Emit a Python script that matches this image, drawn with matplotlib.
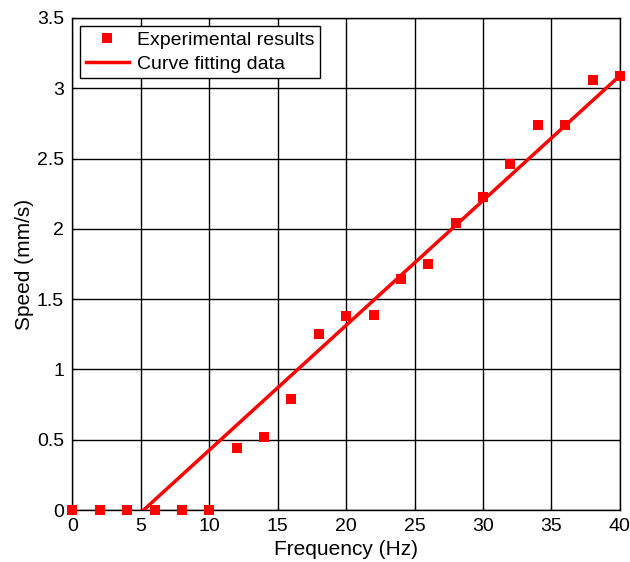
import matplotlib
matplotlib.use("Agg")
import matplotlib.pyplot as plt

freq = [0, 2, 4, 6, 8, 10, 12, 14, 16, 18, 20, 22, 24, 26, 28, 30, 32, 34, 36, 38, 40]
speed = [0, 0, 0, 0, 0, 0, 0.44, 0.52, 0.79, 1.25, 1.38, 1.39, 1.64, 1.75, 2.04, 2.23, 2.46, 2.74, 2.74, 3.06, 3.09]
fit_x = [5.2, 40]
fit_y = [0.0, 3.09]
xticks = [0, 5, 10, 15, 20, 25, 30, 35, 40]
yticks = [0, 0.5, 1, 1.5, 2, 2.5, 3, 3.5]
ytick_labels = ["0", "0.5", "1", "1.5", "2", "2.5", "3", "3.5"]

plt.rcParams['font.family'] = ['Liberation Sans', 'DejaVu Sans']
fig = plt.figure(figsize=(6.3, 5.62), dpi=100)
ax = fig.add_axes([0.115, 0.0925, 0.869, 0.8755])
ax.plot(freq, speed, 's', color='red', markersize=7.5, markeredgewidth=0,
        label='Experimental results', clip_on=False, zorder=3)
ax.plot(fit_x, fit_y, '-', color='red', linewidth=2.5, label='Curve fitting data', zorder=3)
ax.set_xlim(0, 40)
ax.set_ylim(0, 3.5)
ax.set_xticks(xticks)
ax.set_yticks(yticks)
ax.set_yticklabels(ytick_labels)
ax.grid(True, color='black', linestyle='-', linewidth=1)
ax.tick_params(direction='in', labelsize=14, length=3, pad=6)
for s in ax.spines.values():
    s.set_linewidth(1)
ax.set_xlabel('Frequency (Hz)', fontsize=15, labelpad=3)
ax.set_ylabel('Speed (mm/s)', fontsize=15, labelpad=2)
leg = ax.legend(loc='upper left', fontsize=14, fancybox=False, framealpha=1,
                edgecolor='black', borderaxespad=0.4, handlelength=2.2,
                borderpad=0.3, labelspacing=0.3, handletextpad=0.4)
leg.get_frame().set_linewidth(1)
fig.savefig('out.png', dpi=100)
